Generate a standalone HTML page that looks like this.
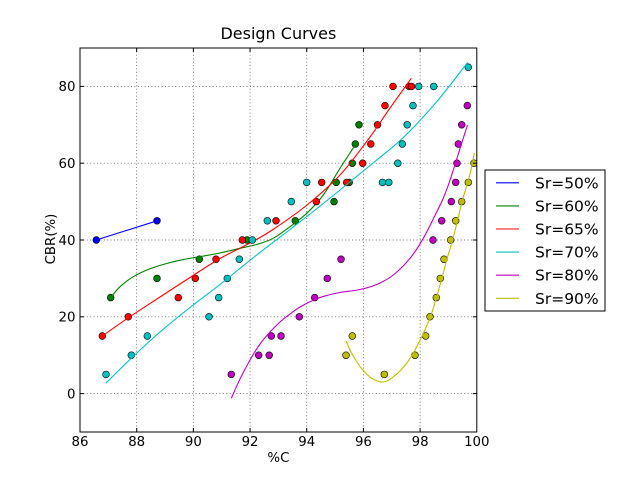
<!DOCTYPE html>
<html><head><meta charset="utf-8"><style>
html,body{margin:0;padding:0;background:#fff;}
svg{display:block;}
text{font-family:"DejaVu Sans","Liberation Sans",sans-serif;fill:#000;}
</style></head><body>
<svg id="chart" width="640" height="480" viewBox="0 0 640 480" xmlns="http://www.w3.org/2000/svg">
<defs><clipPath id="ax"><rect x="80" y="48" width="396.8" height="384"/></clipPath></defs>
<rect x="0" y="0" width="640" height="480" fill="#fff"/>
<rect x="80" y="48" width="396.8" height="384" fill="#fff"/>
<!-- grid -->
<g stroke="#444" stroke-width="0.7" stroke-dasharray="1,2.4" fill="none">
<line x1="136.69" y1="48" x2="136.69" y2="432"/>
<line x1="193.37" y1="48" x2="193.37" y2="432"/>
<line x1="250.06" y1="48" x2="250.06" y2="432"/>
<line x1="306.74" y1="48" x2="306.74" y2="432"/>
<line x1="363.43" y1="48" x2="363.43" y2="432"/>
<line x1="420.11" y1="48" x2="420.11" y2="432"/>
<line x1="80" y1="393.6" x2="476.8" y2="393.6"/>
<line x1="80" y1="316.8" x2="476.8" y2="316.8"/>
<line x1="80" y1="240" x2="476.8" y2="240"/>
<line x1="80" y1="163.2" x2="476.8" y2="163.2"/>
<line x1="80" y1="86.4" x2="476.8" y2="86.4"/>
</g>
<g clip-path="url(#ax)">
<!-- blue -->
<g fill="#0000ff" stroke="#000" stroke-width="0.6">
<circle cx="96.3" cy="240" r="3.4"/><circle cx="157" cy="220.8" r="3.4"/>
</g>
<polyline points="96.3,240 157,220.8" fill="none" stroke="#0000ff" stroke-width="1.1"/>
<!-- green -->
<g fill="#008000" stroke="#000" stroke-width="0.6">
<circle cx="110.7" cy="297.6" r="3.4"/><circle cx="157" cy="278.4" r="3.4"/><circle cx="199.3" cy="259.2" r="3.4"/><circle cx="247" cy="240" r="3.4"/><circle cx="295.3" cy="220.8" r="3.4"/><circle cx="334" cy="201.6" r="3.4"/><circle cx="336.2" cy="182.4" r="3.4"/><circle cx="349.2" cy="182.4" r="3.4"/><circle cx="352.3" cy="163.2" r="3.4"/><circle cx="355.3" cy="144" r="3.4"/><circle cx="359" cy="124.8" r="3.4"/>
</g>
<polyline class="sm" points="110.7,297.7 120,286.7 133.3,276.7 150,268.8 166.7,263.5 183.3,259.6 200,256.6 220,253 240,248.3 256.7,244.5 273.3,238.3 290,226.7 306.7,213.3 323.3,195 340,168.3 350,153 356.7,142.5" fill="none" stroke="#008000" stroke-width="1.1" stroke-linejoin="round"/>
<!-- red -->
<g fill="#ff0000" stroke="#000" stroke-width="0.6">
<circle cx="102.3" cy="336" r="3.4"/><circle cx="128.3" cy="316.8" r="3.4"/><circle cx="178.3" cy="297.6" r="3.4"/><circle cx="195.3" cy="278.4" r="3.4"/><circle cx="216" cy="259.2" r="3.4"/><circle cx="242.3" cy="240" r="3.4"/><circle cx="276" cy="220.8" r="3.4"/><circle cx="316.3" cy="201.6" r="3.4"/><circle cx="321.7" cy="182.4" r="3.4"/><circle cx="346.7" cy="182.4" r="3.4"/><circle cx="362.7" cy="163.2" r="3.4"/><circle cx="370.8" cy="144" r="3.4"/><circle cx="377.5" cy="124.8" r="3.4"/><circle cx="385" cy="105.6" r="3.4"/><circle cx="393" cy="86.4" r="3.4"/><circle cx="409" cy="86.4" r="3.4"/><circle cx="411.5" cy="86.4" r="3.4"/>
</g>
<polyline class="sm" points="102.3,336 128.3,317.8 160,297 190,277.5 220,258.5 250,243 273,229.5 307,205 340,175 370,137 390,108 411.3,78.3" fill="none" stroke="#ff0000" stroke-width="1.1" stroke-linejoin="round"/>
<!-- cyan -->
<g fill="#00bfbf" stroke="#000" stroke-width="0.6">
<circle cx="106" cy="374.4" r="3.4"/><circle cx="131.3" cy="355.2" r="3.4"/><circle cx="147.3" cy="336" r="3.4"/><circle cx="209" cy="316.8" r="3.4"/><circle cx="218.7" cy="297.6" r="3.4"/><circle cx="227.3" cy="278.4" r="3.4"/><circle cx="239.3" cy="259.2" r="3.4"/><circle cx="252.3" cy="240" r="3.4"/><circle cx="267.3" cy="220.8" r="3.4"/><circle cx="291.3" cy="201.6" r="3.4"/><circle cx="306.7" cy="182.4" r="3.4"/><circle cx="382.5" cy="182.4" r="3.4"/><circle cx="388.8" cy="182.4" r="3.4"/><circle cx="397.8" cy="163.2" r="3.4"/><circle cx="402.3" cy="144" r="3.4"/><circle cx="407.2" cy="124.8" r="3.4"/><circle cx="413" cy="105.6" r="3.4"/><circle cx="418.7" cy="86.4" r="3.4"/><circle cx="433.7" cy="86.4" r="3.4"/><circle cx="468.3" cy="67.2" r="3.4"/>
</g>
<polyline class="sm" points="105.7,383.3 131,358.5 160,332 190,307.5 220,284.5 256.7,255 290,229.5 323.3,203.5 370,165.5 403.3,137.5 436.7,101.7 467.7,62.3" fill="none" stroke="#00bfbf" stroke-width="1.1" stroke-linejoin="round"/>
<!-- magenta -->
<g fill="#bf00bf" stroke="#000" stroke-width="0.6">
<circle cx="231.3" cy="374.4" r="3.4"/><circle cx="258.7" cy="355.2" r="3.4"/><circle cx="269.2" cy="355.2" r="3.4"/><circle cx="271.3" cy="336" r="3.4"/><circle cx="281" cy="336" r="3.4"/><circle cx="299.3" cy="316.8" r="3.4"/><circle cx="314.7" cy="297.6" r="3.4"/><circle cx="327.3" cy="278.4" r="3.4"/><circle cx="341" cy="259.2" r="3.4"/><circle cx="433" cy="240" r="3.4"/><circle cx="441.7" cy="220.8" r="3.4"/><circle cx="451.3" cy="201.6" r="3.4"/><circle cx="455.7" cy="182.4" r="3.4"/><circle cx="457" cy="163.2" r="3.4"/><circle cx="458.3" cy="144" r="3.4"/><circle cx="461.7" cy="124.8" r="3.4"/><circle cx="467.3" cy="105.6" r="3.4"/>
</g>
<polyline class="sm" points="231.3,398.3 240,379 250,360 260,344 270,332 280,322 290,314 300,307 314.7,299.5 326.7,295.5 340,292.5 360,289.5 376.7,284.5 393.3,275 410,258.3 423.3,238.3 436.7,212 442.7,199.5 448,186 453,171 458,155 463,139 467.5,125" fill="none" stroke="#bf00bf" stroke-width="1.1" stroke-linejoin="round"/>
<!-- yellow -->
<g fill="#bfbf00" stroke="#000" stroke-width="0.6">
<circle cx="384.3" cy="374.4" r="3.4"/><circle cx="346" cy="355.2" r="3.4"/><circle cx="415" cy="355.2" r="3.4"/><circle cx="352.3" cy="336" r="3.4"/><circle cx="425.7" cy="336" r="3.4"/><circle cx="430" cy="316.8" r="3.4"/><circle cx="436.3" cy="297.6" r="3.4"/><circle cx="440.3" cy="278.4" r="3.4"/><circle cx="444" cy="259.2" r="3.4"/><circle cx="450.7" cy="240" r="3.4"/><circle cx="455.7" cy="220.8" r="3.4"/><circle cx="461.7" cy="201.6" r="3.4"/><circle cx="468.3" cy="182.4" r="3.4"/><circle cx="474" cy="163.2" r="3.4"/>
</g>
<polyline class="sm" points="346,340.7 350,350 355,359 362,369 370,377 376,380.5 381,382 387,381 393,377 400,371 408.3,361 415,350 422,336 430,318 436,299 441.7,279 447,259 452,242 456.7,224 461.7,203 466,188 468.3,180 471,170 474.3,153" fill="none" stroke="#bfbf00" stroke-width="1.1" stroke-linejoin="round"/>
</g>
<!-- ticks -->
<g stroke="#000" stroke-width="1">
<line x1="136.69" y1="432" x2="136.69" y2="428"/><line x1="193.37" y1="432" x2="193.37" y2="428"/><line x1="250.06" y1="432" x2="250.06" y2="428"/><line x1="306.74" y1="432" x2="306.74" y2="428"/><line x1="363.43" y1="432" x2="363.43" y2="428"/><line x1="420.11" y1="432" x2="420.11" y2="428"/>
<line x1="136.69" y1="48" x2="136.69" y2="52"/><line x1="193.37" y1="48" x2="193.37" y2="52"/><line x1="250.06" y1="48" x2="250.06" y2="52"/><line x1="306.74" y1="48" x2="306.74" y2="52"/><line x1="363.43" y1="48" x2="363.43" y2="52"/><line x1="420.11" y1="48" x2="420.11" y2="52"/>
<line x1="80" y1="393.6" x2="84" y2="393.6"/><line x1="80" y1="316.8" x2="84" y2="316.8"/><line x1="80" y1="240" x2="84" y2="240"/><line x1="80" y1="163.2" x2="84" y2="163.2"/><line x1="80" y1="86.4" x2="84" y2="86.4"/>
<line x1="476.8" y1="393.6" x2="472.8" y2="393.6"/><line x1="476.8" y1="316.8" x2="472.8" y2="316.8"/><line x1="476.8" y1="240" x2="472.8" y2="240"/><line x1="476.8" y1="163.2" x2="472.8" y2="163.2"/><line x1="476.8" y1="86.4" x2="472.8" y2="86.4"/>
</g>
<rect x="80" y="48" width="396.8" height="384" fill="none" stroke="#000" stroke-width="1"/>
<!-- tick labels -->
<g font-size="13.33" text-anchor="middle">
<text x="80" y="446">86</text><text x="136.69" y="446">88</text><text x="193.37" y="446">90</text><text x="250.06" y="446">92</text><text x="306.74" y="446">94</text><text x="363.43" y="446">96</text><text x="420.11" y="446">98</text><text x="476.8" y="446">100</text>
</g>
<g font-size="13.33" text-anchor="end">
<text x="75.5" y="398.4">0</text><text x="75.5" y="321.6">20</text><text x="75.5" y="244.8">40</text><text x="75.5" y="168">60</text><text x="75.5" y="91.2">80</text>
</g>
<text x="278.4" y="39" font-size="16" text-anchor="middle">Design Curves</text>
<text x="278.4" y="462" font-size="13.33" text-anchor="middle">%C</text>
<text x="0" y="0" font-size="13.33" text-anchor="middle" transform="translate(55,239) rotate(-90)">CBR(%)</text>
<!-- legend -->
<rect x="485" y="170" width="120" height="141" fill="#fff" stroke="#000" stroke-width="1"/>
<g stroke-width="1.1">
<line x1="496" y1="182.8" x2="519" y2="182.8" stroke="#0000ff"/>
<line x1="496" y1="205.9" x2="519" y2="205.9" stroke="#008000"/>
<line x1="496" y1="229" x2="519" y2="229" stroke="#ff0000"/>
<line x1="496" y1="252.1" x2="519" y2="252.1" stroke="#00bfbf"/>
<line x1="496" y1="275.2" x2="519" y2="275.2" stroke="#bf00bf"/>
<line x1="496" y1="298.3" x2="519" y2="298.3" stroke="#bfbf00"/>
</g>
<g font-size="15.5">
<text x="535" y="188.3">Sr=50%</text>
<text x="535" y="211.4">Sr=60%</text>
<text x="535" y="234.5">Sr=65%</text>
<text x="535" y="257.6">Sr=70%</text>
<text x="535" y="280.7">Sr=80%</text>
<text x="535" y="303.8">Sr=90%</text>
</g>
</svg>
<script>
(function(){
try{
var NS="http://www.w3.org/2000/svg";
var pls=document.querySelectorAll("polyline.sm");
for(var i=0;i<pls.length;i++){
var pl=pls[i];
var raw=pl.getAttribute("points").trim().split(/\s+/);
var p=[];
for(var j=0;j<raw.length;j++){var a=raw[j].split(",");p.push([parseFloat(a[0]),parseFloat(a[1])]);}
var d="M"+p[0][0]+","+p[0][1];
for(var k=0;k<p.length-1;k++){
var p0=p[k>0?k-1:0],p1=p[k],p2=p[k+1],p3=p[k+2<p.length?k+2:p.length-1];
var c1x=p1[0]+(p2[0]-p0[0])/6,c1y=p1[1]+(p2[1]-p0[1])/6;
var c2x=p2[0]-(p3[0]-p1[0])/6,c2y=p2[1]-(p3[1]-p1[1])/6;
d+=" C"+c1x.toFixed(2)+","+c1y.toFixed(2)+" "+c2x.toFixed(2)+","+c2y.toFixed(2)+" "+p2[0]+","+p2[1];
}
var path=document.createElementNS(NS,"path");
path.setAttribute("d",d);
path.setAttribute("fill","none");
path.setAttribute("stroke",pl.getAttribute("stroke"));
path.setAttribute("stroke-width",pl.getAttribute("stroke-width"));
pl.parentNode.replaceChild(path,pl);
}
}catch(e){}
})();
</script>
</body></html>
